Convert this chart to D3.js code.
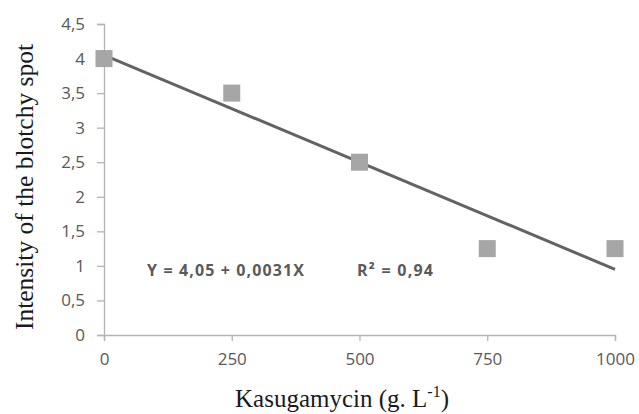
<!DOCTYPE html>
<html>
<head>
<meta charset="utf-8">
<script src="https://cdn.jsdelivr.net/npm/d3@7"></script>
<style>
  body { margin: 0; background: #fff; }
  svg { display: block; }
</style>
</head>
<body>
<div id="chart"></div>
<script>
// data
const doses = [0, 250, 500, 750, 1000];
const intensity = [4, 3.5, 2.5, 1.25, 1.25];
const yTicks = [0, 0.5, 1, 1.5, 2, 2.5, 3, 3.5, 4, 4.5];
const xTicks = [0, 250, 500, 750, 1000];
const fitIntercept = 4.05;
const fitSlope = -0.0031;

const width = 639, height = 414;
const margin = { top: 24, right: 24, bottom: 79, left: 104 };

const svg = d3.select('#chart').append('svg')
    .attr('width', width)
    .attr('height', height);

const x = d3.scaleLinear().domain([0, 1000]).range([margin.left, 615]);
const y = d3.scaleLinear().domain([0, 4.5]).range([335, margin.top]);

const fmt = d => String(d).replace('.', ',');
const tickFont = '"Open Sans", sans-serif';

// y axis
const yAxis = svg.append('g')
    .attr('transform', `translate(${margin.left},0)`)
    .call(d3.axisLeft(y).tickValues(yTicks).tickSize(7).tickPadding(12).tickFormat(fmt));
yAxis.select('.domain').attr('stroke', '#b3b3b3').attr('stroke-width', 1.3);
yAxis.selectAll('.tick line').attr('stroke', '#b3b3b3').attr('stroke-width', 1.3);
yAxis.selectAll('text')
    .attr('fill', '#595959')
    .style('font-family', tickFont)
    .style('font-size', '17px');

// x axis
const xAxis = svg.append('g')
    .attr('transform', `translate(0,${y(0)})`)
    .call(d3.axisBottom(x).tickValues(xTicks).tickSize(6).tickPadding(12).tickFormat(d3.format('d')));
xAxis.select('.domain').attr('stroke', '#b3b3b3').attr('stroke-width', 1.3);
xAxis.selectAll('.tick line').attr('stroke', '#b3b3b3').attr('stroke-width', 1.3);
xAxis.selectAll('text')
    .attr('fill', '#595959')
    .style('font-family', tickFont)
    .style('font-size', '17px');

// regression line
svg.append('line')
    .attr('x1', x(0))
    .attr('y1', y(fitIntercept))
    .attr('x2', x(1000))
    .attr('y2', y(fitIntercept + fitSlope * 1000))
    .attr('stroke', '#636363')
    .attr('stroke-width', 3);

// points
const size = 17;
svg.selectAll('.pt')
    .data(doses)
    .enter()
    .append('rect')
    .attr('class', 'pt')
    .attr('x', d => x(d) - size / 2)
    .attr('y', (d, i) => y(intensity[i]) - size / 2)
    .attr('width', size)
    .attr('height', size)
    .attr('fill', '#a6a6a6');

// equation labels
const eq = svg.append('g')
    .style('font-family', tickFont)
    .style('font-size', '16px')
    .style('font-weight', 'bold')
    .attr('fill', '#5a5a5a');
eq.append('text').attr('x', 147).attr('y', 276)
    .attr('textLength', 157).attr('lengthAdjust', 'spacing')
    .text('Y = 4,05 + 0,0031X');
eq.append('text').attr('x', 357).attr('y', 276)
    .attr('textLength', 76).attr('lengthAdjust', 'spacing')
    .text('R² = 0,94');

// axis titles
svg.append('text')
    .attr('transform', `translate(33,187) rotate(-90)`)
    .attr('text-anchor', 'middle')
    .style('font-family', '"Liberation Serif", "Times New Roman", serif')
    .style('font-size', '25.5px')
    .attr('fill', '#1a1a1a')
    .text('Intensity of the blotchy spot');

const xt = svg.append('text')
    .attr('x', 342)
    .attr('y', 407)
    .attr('text-anchor', 'middle')
    .style('font-family', '"Liberation Serif", "Times New Roman", serif')
    .style('font-size', '25px')
    .attr('fill', '#1a1a1a');
xt.append('tspan').text('Kasugamycin (g. L');
xt.append('tspan').attr('dy', -10).style('font-size', '16px').text('-1');
xt.append('tspan').attr('dy', 10).text(')');
</script>
</body>
</html>
